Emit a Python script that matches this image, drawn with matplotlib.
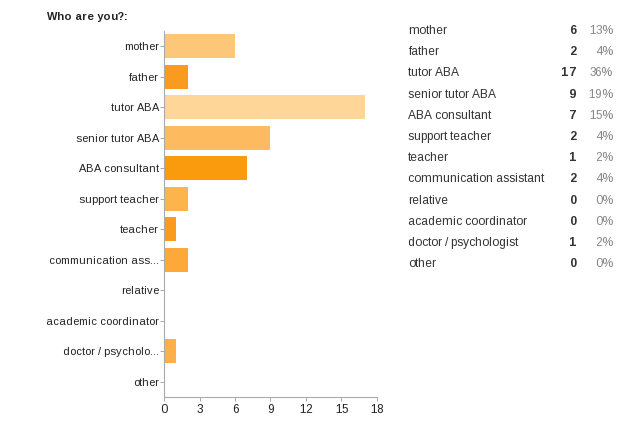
import matplotlib
matplotlib.use('Agg')
import matplotlib.pyplot as plt

plt.rcParams['font.family'] = ['Liberation Sans', 'DejaVu Sans']
plt.rcParams['text.hinting_factor'] = 1

# data
categories = ['mother', 'father', 'tutor ABA', 'senior tutor ABA', 'ABA consultant',
              'support teacher', 'teacher', 'communication assistant', 'relative',
              'academic coordinator', 'doctor / psychologist', 'other']
short_labels = ['mother', 'father', 'tutor ABA', 'senior tutor ABA', 'ABA consultant',
                'support teacher', 'teacher', 'communication ass...', 'relative',
                'academic coordinator', 'doctor / psycholo...', 'other']
counts = [6, 2, 17, 9, 7, 2, 1, 2, 0, 0, 1, 0]
percents = ['13%', '4%', '36%', '19%', '15%', '4%', '2%', '4%', '0%', '0%', '2%', '0%']
bar_colors = ['#FDC77A', '#F99B1E', '#FDD698', '#FDBA5E', '#F99B0C', '#FDB44C',
              '#F99B1E', '#FCA93A', '#FCA93A', '#FCA93A', '#FDB04A', '#FCA93A']
xticks = [0, 3, 6, 9, 12, 15, 18]

fig = plt.figure(figsize=(6.32, 4.22), dpi=100)
ax = fig.add_axes([0.2595, 0.0592, 0.337, 0.8673])

y = list(range(len(categories)))
ax.barh(y, counts, height=0.79, color=bar_colors)
ax.set_ylim(len(categories) - 0.5, -0.5)
ax.set_xlim(0, 18)
ax.set_xticks(xticks)
ax.set_yticks(y)
ax.set_yticklabels(short_labels)
ax.tick_params(axis='y', length=3, width=0.6, color='#999999', labelsize=8, labelcolor='#222222', pad=0.5)
ax.tick_params(axis='x', length=3, width=0.6, color='#999999', labelsize=8.4, labelcolor='#222222', pad=2)
for s in ['top', 'right']:
    ax.spines[s].set_visible(False)
for s in ['left', 'bottom']:
    ax.spines[s].set_color('#aaaaaa')
    ax.spines[s].set_linewidth(0.8)

fig.text(47 / 632, 1 - 17 / 422, 'Who are you?:', fontsize=8, fontweight='bold',
         color='#222222', va='center', ha='left')

# summary table on the right
for i, (name, c, p) in enumerate(zip(categories, counts, percents)):
    yy = 1 - (31 + i * 21.2) / 422
    fig.text(408 / 632, yy, name, fontsize=8.8, color='#333333', va='center', ha='left')
    fig.text(577 / 632, yy, str(c), fontsize=8.8, fontweight='bold', color='#333333',
             va='center', ha='right')
    fig.text(613 / 632, yy, p, fontsize=8.8, color='#888888', va='center', ha='right')

fig.savefig('out.png', dpi=100)
